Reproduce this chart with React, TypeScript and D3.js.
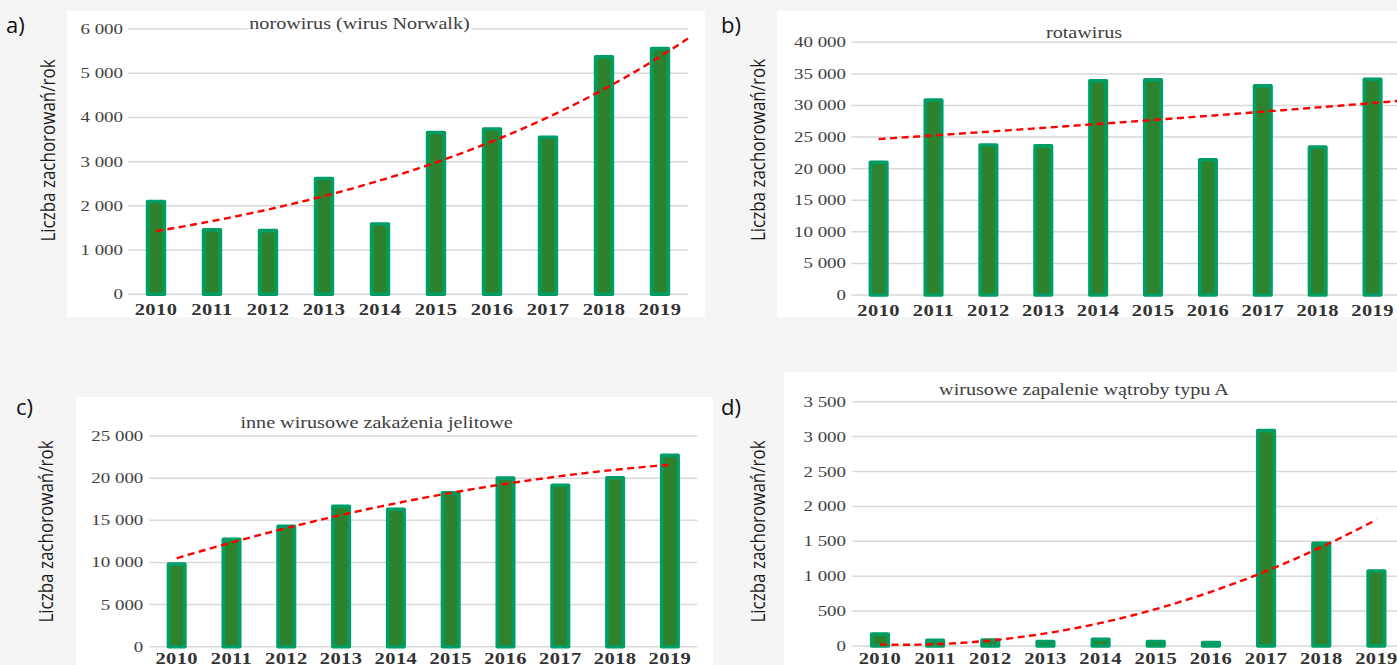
import React from "react";
import * as d3 from "d3";

const years = ["2010", "2011", "2012", "2013", "2014", "2015", "2016", "2017", "2018", "2019"];

const noroValues = [2100, 1460, 1440, 2620, 1590, 3660, 3740, 3550, 5370, 5560];
const rotaValues = [21000, 30870, 23750, 23600, 33900, 34050, 21400, 33100, 23400, 34150];
const inneValues = [9800, 12750, 14300, 16650, 16300, 18250, 20000, 19150, 20050, 22700];
const wzwaValues = [170, 80, 85, 65, 95, 65, 50, 3085, 1470, 1075];

const noroTicks = [0, 1000, 2000, 3000, 4000, 5000, 6000];
const rotaTicks = [0, 5000, 10000, 15000, 20000, 25000, 30000, 35000, 40000];
const inneTicks = [0, 5000, 10000, 15000, 20000, 25000];
const wzwaTicks = [0, 500, 1000, 1500, 2000, 2500, 3000, 3500];

const titles = [
  "norowirus (wirus Norwalk)",
  "rotawirus",
  "inne wirusowe zakażenia jelitowe",
  "wirusowe zapalenie wątroby typu A",
];
const panelLabels = ["a)", "b)", "c)", "d)"];
const yAxisTitle = "Liczba zachorowań/rok";

const SX = 1.26;
const SERIF = "'Liberation Serif', 'Times New Roman', serif";
const SANS = "'Open Sans', 'Noto Sans', sans-serif";

const fmt = (v: number) => d3.format(",")(v).replace(/,/g, " ");

function expFit(vals: number[]) {
  const n = vals.length;
  const ts = d3.range(n);
  const ly = vals.map((v) => Math.log(v));
  const mt = d3.mean(ts)!;
  const my = d3.mean(ly)!;
  const sxy = d3.sum(ts, (t, i) => (t - mt) * (ly[i] - my));
  const sxx = d3.sum(ts, (t) => (t - mt) ** 2);
  const b = sxy / sxx;
  const a = my - b * mt;
  return (t: number) => Math.exp(a + b * t);
}

function poly2Fit(vals: number[]) {
  const n = vals.length;
  const ts = d3.range(n);
  const mt = d3.mean(ts)!;
  const us = ts.map((t) => t - mt);
  const mu2 = d3.mean(us, (u) => u * u)!;
  const qs = us.map((u) => u * u - mu2);
  const my = d3.mean(vals)!;
  const b1 = d3.sum(us, (u, i) => u * vals[i]) / d3.sum(us, (u) => u * u);
  const c2 = d3.sum(qs, (q, i) => q * vals[i]) / d3.sum(qs, (q) => q * q);
  return (t: number) => {
    const u = t - mt;
    return my + b1 * u + c2 * (u * u - mu2);
  };
}

type PanelProps = {
  values: number[];
  ticks: number[];
  x0: number;
  x1: number;
  y0: number;
  yTop: number;
  tickLabelRight: number;
  title: string;
  titleX: number;
  titleY: number;
  titleMask?: boolean;
  label: string;
  labelX: number;
  labelY: number;
  yTitleX: number;
  yTitleY: number;
  xLabelOffset: number;
  trend: (t: number) => number;
  trendEnd: number;
};

function Panel(p: PanelProps) {
  const x = d3.scaleBand<string>().domain(years).range([p.x0, p.x1]).paddingInner(0.7).paddingOuter(0.35);
  const yMax = p.ticks[p.ticks.length - 1];
  const y = d3.scaleLinear().domain([0, yMax]).range([p.y0, p.yTop]);
  const step = x.step();
  const tx = d3.scaleLinear().domain([0, 1]).range([p.x0 + step / 2, p.x0 + step * 1.5]);
  const tPts = d3.range(0, p.trendEnd + 0.0001, 0.05);
  const line = d3
    .line<number>()
    .x((t) => tx(t))
    .y((t) => y(p.trend(t)));
  const bw = x.bandwidth();
  return (
    <g>
      {p.ticks.map((t) => (
        <line key={"g" + t} x1={p.x0} x2={p.x1} y1={y(t)} y2={y(t)} stroke="#d9d9d9" strokeWidth={1.5} />
      ))}
      {p.ticks.map((t) => (
        <g key={"t" + t} transform={`translate(${p.tickLabelRight},${y(t) + 5}) scale(${SX},1)`}>
          <text textAnchor="end" fontFamily={SERIF} fontSize={15} fill="#404040">
            {fmt(t)}
          </text>
        </g>
      ))}
      {p.values.map((v, i) => {
        const yy = y(v);
        return (
          <rect
            key={"b" + i}
            x={x(years[i])!}
            y={yy}
            width={bw}
            height={p.y0 - yy}
            fill="#2f822d"
            stroke="#009e64"
            strokeWidth={3.6}
            strokeLinejoin="round"
          />
        );
      })}
      {years.map((yr) => (
        <g key={"x" + yr} transform={`translate(${x(yr)! + bw / 2},${p.y0 + p.xLabelOffset}) scale(${SX},1)`}>
          <text textAnchor="middle" fontFamily={SERIF} fontSize={16.3} fontWeight="bold" fill="#333" letterSpacing={0.3}>
            {yr}
          </text>
        </g>
      ))}
      <path d={line(tPts) || ""} fill="none" stroke="#ff0000" strokeWidth={2.4} strokeDasharray="7,4.5" />
      {p.titleMask && (
        <rect x={p.titleX - 112} y={p.titleY - 14} width={224} height={19} fill="#ffffff" />
      )}
      <g transform={`translate(${p.titleX},${p.titleY}) scale(${SX},1)`}>
        <text textAnchor="middle" fontFamily={SERIF} fontSize={16} fill="#404040">
          {p.title}
        </text>
      </g>
      <text x={p.labelX} y={p.labelY} fontFamily={SANS} fontSize={22} fill="#111">
        {p.label}
      </text>
      <g transform={`translate(${p.yTitleX},${p.yTitleY}) scale(1.18,1) rotate(-90)`}>
        <text textAnchor="middle" fontFamily={SANS} fontSize={17} fill="#1a1a1a">
          {yAxisTitle}
        </text>
      </g>
    </g>
  );
}

export default function App() {
  return (
    <div style={{ position: "absolute", left: 0, top: 0 }}>
      <svg width={1397} height={665} style={{ display: "block" }}>
        <rect x={0} y={0} width={1397} height={665} fill="#f5f5f5" />
        <rect x={67} y={11} width={638} height={306} fill="#ffffff" />
        <rect x={777} y={11} width={640} height={306} fill="#ffffff" />
        <rect x={76} y={397} width={637} height={280} fill="#ffffff" />
        <rect x={784} y={372} width={640} height={300} fill="#ffffff" />
        <Panel
          values={noroValues}
          ticks={noroTicks}
          x0={128}
          x1={688}
          y0={294.3}
          yTop={29}
          tickLabelRight={123}
          title={titles[0]}
          titleX={359.5}
          titleY={28.5}
          titleMask
          label={panelLabels[0]}
          labelX={6}
          labelY={33}
          yTitleX={55}
          yTitleY={150.5}
          xLabelOffset={20.7}
          trend={expFit(noroValues)}
          trendEnd={9.5}
        />
        <Panel
          values={rotaValues}
          ticks={rotaTicks}
          x0={851.2}
          x1={1400}
          y0={295}
          yTop={42.3}
          tickLabelRight={846}
          title={titles[1]}
          titleX={1084}
          titleY={38.3}
          label={panelLabels[1]}
          labelX={721}
          labelY={33}
          yTitleX={765}
          yTitleY={150}
          xLabelOffset={21}
          trend={expFit(rotaValues)}
          trendEnd={9.5}
        />
        <Panel
          values={inneValues}
          ticks={inneTicks}
          x0={149.3}
          x1={697.3}
          y0={646.7}
          yTop={436}
          tickLabelRight={143.3}
          title={titles[2]}
          titleX={376.6}
          titleY={428.3}
          label={panelLabels[2]}
          labelX={16}
          labelY={415}
          yTitleX={53}
          yTitleY={531.5}
          xLabelOffset={17.3}
          trend={poly2Fit(inneValues)}
          trendEnd={9}
        />
        <Panel
          values={wzwaValues}
          ticks={wzwaTicks}
          x0={852.4}
          x1={1404}
          y0={646}
          yTop={401.7}
          tickLabelRight={846}
          title={titles[3]}
          titleX={1084}
          titleY={395}
          label={panelLabels[3]}
          labelX={721}
          labelY={415}
          yTitleX={765}
          yTitleY={531.5}
          xLabelOffset={17.8}
          trend={poly2Fit(wzwaValues)}
          trendEnd={9}
        />
      </svg>
    </div>
  );
}
